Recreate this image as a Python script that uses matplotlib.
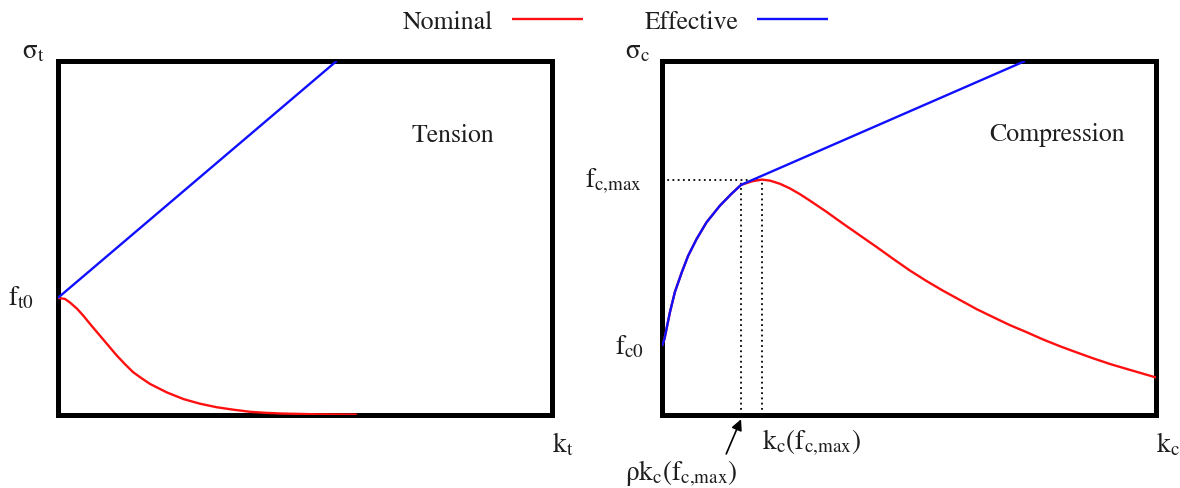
import matplotlib
matplotlib.use("Agg")
import matplotlib.pyplot as plt

plt.rcParams["font.family"] = ["STIXGeneral", "DejaVu Serif"]
plt.rcParams["mathtext.fontset"] = "stix"

W, H = 1180, 489
TEXT_COLOR = "#1e1e1e"
RED = "#ff1010"
BLUE = "#1010ff"

# ---- Tension: nominal softening curve and effective stress ----
tension_k = [0.0, 0.003, 0.014, 0.024, 0.038, 0.051, 0.068, 0.085, 0.102, 0.119,
             0.136, 0.152, 0.169, 0.186, 0.220, 0.254, 0.287, 0.321, 0.355,
             0.389, 0.422, 0.456, 0.524, 0.605]
tension_nominal = [0.331, 0.330, 0.328, 0.318, 0.301, 0.281, 0.252, 0.224, 0.196,
                   0.168, 0.143, 0.121, 0.104, 0.088, 0.064, 0.045, 0.032, 0.022,
                   0.015, 0.009, 0.006, 0.004, 0.002, 0.001]
tension_eff_k = [0.0, 0.564]
tension_effective = [0.331, 1.0]

# ---- Compression: hardening branch shared by both curves ----
f_c0 = 0.195
rho_k_peak = 0.160      # rho * k_c(f_c,max)
k_peak = 0.202          # k_c(f_c,max)
f_cmax = 0.665

comp_hard_k = [0.0, 0.005, 0.016, 0.026, 0.040, 0.053, 0.070, 0.090, 0.117, 0.140, 0.160]
comp_hard = [0.195, 0.215, 0.290, 0.347, 0.403, 0.450, 0.497, 0.544, 0.591, 0.624, 0.650]

# nominal softening after the peak
comp_soft_k = [0.182, 0.202, 0.219, 0.239, 0.259, 0.279, 0.300, 0.333, 0.367, 0.401,
               0.435, 0.468, 0.502, 0.536, 0.569, 0.603, 0.637, 0.671, 0.704,
               0.738, 0.772, 0.806, 0.839, 0.873, 0.907, 0.941, 1.0]
comp_soft = [0.660, 0.665, 0.662, 0.653, 0.640, 0.624, 0.605, 0.574, 0.540, 0.507,
             0.474, 0.441, 0.408, 0.378, 0.351, 0.325, 0.299, 0.276, 0.254,
             0.234, 0.213, 0.194, 0.177, 0.160, 0.144, 0.130, 0.106]

# effective stress continues linearly after rho*k_c(f_c,max)
comp_eff_k = [0.160, 0.735]
comp_eff = [0.650, 1.0]

fig = plt.figure(figsize=(W / 100, H / 100), dpi=100)
ax1 = fig.add_axes([58 / W, 73 / H, 494 / W, 354 / H])
ax2 = fig.add_axes([662 / W, 73 / H, 494 / W, 354 / H])

for ax in (ax1, ax2):
    ax.set_xlim(0, 1)
    ax.set_ylim(0, 1)
    ax.set_xticks([])
    ax.set_yticks([])
    for sp in ax.spines.values():
        sp.set_linewidth(3.6)
        sp.set_color("black")

lw = 1.7
ckw = dict(lw=lw, solid_joinstyle="round", solid_capstyle="butt", zorder=3)
l_nom, = ax1.plot(tension_k, tension_nominal, color=RED, label="Nominal", **ckw)
l_eff, = ax1.plot(tension_eff_k, tension_effective, color=BLUE, label="Effective", **ckw)

# dotted guides at the peak
dot = dict(color="black", lw=1.3, linestyle=(0, (1.0, 1.9)), zorder=1)
ax2.plot([0, k_peak], [f_cmax, f_cmax], **dot)
ax2.plot([rho_k_peak, rho_k_peak], [0, f_cmax], **dot)
ax2.plot([k_peak, k_peak], [0, f_cmax], **dot)

ax2.plot(comp_hard_k + comp_soft_k, comp_hard + comp_soft, color=RED, **ckw)
ax2.plot(comp_hard_k + comp_eff_k, comp_hard + comp_eff, color=BLUE, **ckw)


def fxy(px, py):
    return (px / W, 1 - py / H)


fs = 18.5
tkw = dict(transform=fig.transFigure, fontsize=fs, color=TEXT_COLOR, va="baseline")
mkw = dict(tkw, fontsize=19.5)

fig.text(*fxy(45, 58), r"$\mathrm{\sigma_t}$", ha="right", **mkw)
fig.text(*fxy(34, 305), r"$\mathrm{f_{t0}}$", ha="right", **mkw)
fig.text(*fxy(552, 452), r"$\mathrm{k_t}$", ha="left", **mkw)
fig.text(*fxy(452.5, 142), "Tension", ha="center", **tkw)

fig.text(*fxy(650, 58), r"$\mathrm{\sigma_c}$", ha="right", **mkw)
fig.text(*fxy(642, 187), r"$\mathrm{f_{c{,}max}}$", ha="right", **mkw)
fig.text(*fxy(644, 354), r"$\mathrm{f_{c0}}$", ha="right", **mkw)
fig.text(*fxy(1156, 452), r"$\mathrm{k_c}$", ha="left", **mkw)
fig.text(*fxy(1057.5, 141), "Compression", ha="center", **tkw)
fig.text(*fxy(762, 449), r"$\mathrm{k_c(f_{c{,}max})}$", ha="left", **mkw)
fig.text(*fxy(625, 480), r"$\mathrm{\rho k_c(f_{c{,}max})}$", ha="left", **mkw)

ax2.annotate("", xy=(rho_k_peak, -0.012), xytext=(0.130, -0.11),
             xycoords="data", textcoords="data", annotation_clip=False,
             arrowprops=dict(arrowstyle="-|>", color="black", lw=1.2,
                             mutation_scale=16, shrinkA=0, shrinkB=0))

leg = fig.legend(handles=[l_nom, l_eff], labels=["Nominal", "Effective"],
                 loc="center", bbox_to_anchor=(615.5 / W, 1 - 22.7 / H),
                 ncol=2, frameon=False, markerfirst=False, fontsize=fs,
                 handlelength=2.76, handletextpad=0.74, columnspacing=2.4,
                 borderaxespad=0, borderpad=0)
for t in leg.get_texts():
    t.set_color(TEXT_COLOR)

fig.savefig("out.png", dpi=100)
